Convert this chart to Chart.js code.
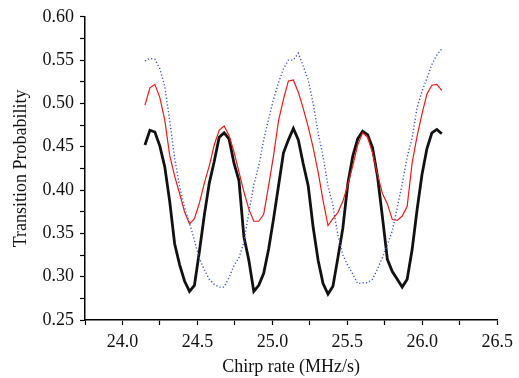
<!DOCTYPE html>
<html>
<head>
<meta charset="utf-8">
<script src="https://cdn.jsdelivr.net/npm/chart.js@4/dist/chart.umd.min.js"></script>
<style>
html,body{margin:0;padding:0;background:#fff;}
canvas{display:block;}
</style>
</head>
<body>
<canvas id="c" width="519" height="378"></canvas>
<script>
// Chirp rate (MHz/s) sample positions: 24.15 + i*0.033, i = 0..60
const chirpRate = [24.150,24.183,24.216,24.249,24.282,24.315,24.348,24.381,24.414,24.447,
  24.480,24.513,24.546,24.579,24.612,24.645,24.678,24.711,24.744,24.777,
  24.810,24.843,24.876,24.909,24.942,24.975,25.008,25.041,25.074,25.107,
  25.140,25.173,25.206,25.239,25.272,25.305,25.338,25.371,25.404,25.437,
  25.470,25.503,25.536,25.569,25.602,25.635,25.668,25.701,25.734,25.767,
  25.800,25.833,25.866,25.899,25.932,25.965,25.998,26.031,26.064,26.097,26.130];

const blackSeries = [0.452,0.469,0.467,0.451,0.427,0.387,0.338,0.314,0.295,0.283,
  0.290,0.329,0.371,0.408,0.433,0.461,0.466,0.459,0.431,0.411,
  0.346,0.319,0.283,0.290,0.304,0.332,0.367,0.405,0.443,0.458,
  0.471,0.458,0.430,0.405,0.357,0.319,0.292,0.280,0.289,0.322,
  0.356,0.407,0.439,0.459,0.468,0.464,0.449,0.416,0.369,0.320,
  0.306,0.297,0.288,0.297,0.331,0.377,0.418,0.448,0.466,0.470,0.465];

const redSeries = [0.498,0.518,0.522,0.507,0.481,0.440,0.416,0.396,0.375,0.361,
  0.367,0.385,0.408,0.428,0.452,0.469,0.474,0.463,0.444,0.421,
  0.398,0.378,0.364,0.364,0.372,0.405,0.440,0.480,0.505,0.526,
  0.527,0.513,0.494,0.473,0.449,0.421,0.388,0.359,0.367,0.374,
  0.387,0.406,0.428,0.452,0.466,0.461,0.443,0.418,0.396,0.384,
  0.366,0.365,0.370,0.381,0.431,0.462,0.488,0.511,0.521,0.522,0.515];

const blueSeries = [0.549,0.552,0.551,0.540,0.520,0.480,0.437,0.404,0.380,0.362,
  0.342,0.321,0.308,0.297,0.291,0.288,0.288,0.299,0.313,0.322,
  0.340,0.374,0.406,0.428,0.458,0.482,0.505,0.524,0.540,0.550,
  0.550,0.558,0.543,0.527,0.500,0.466,0.439,0.405,0.382,0.348,
  0.325,0.313,0.303,0.292,0.293,0.293,0.297,0.309,0.322,0.337,
  0.353,0.380,0.407,0.438,0.460,0.495,0.514,0.529,0.545,0.556,0.563];

const xMajorLabels = ['24.0','24.5','25.0','25.5','26.0','26.5'];
const yMajorLabels = ['0.25','0.30','0.35','0.40','0.45','0.50','0.55','0.60'];

const pts = arr => arr.map((v, i) => ({x: chirpRate[i], y: v}));
const FONT = "'Liberation Serif', 'Times New Roman', serif";

new Chart(document.getElementById('c'), {
  type: 'line',
  data: {
    datasets: [
      {data: pts(blueSeries), borderColor: '#3a55c8', borderWidth: 1.4, borderDash: [1.2, 2.2], pointRadius: 0, tension: 0, fill: false},
      {data: pts(redSeries), borderColor: '#f01818', borderWidth: 1.2, pointRadius: 0, tension: 0, fill: false},
      {data: pts(blackSeries), borderColor: '#111111', borderWidth: 2.8, pointRadius: 0, tension: 0, fill: false}
    ]
  },
  options: {
    responsive: false,
    animation: false,
    devicePixelRatio: 1,
    layout: {padding: {top: 15, right: 19, left: 0, bottom: 0}},
    plugins: {legend: {display: false}, tooltip: {enabled: false}},
    scales: {
      x: {
        type: 'linear', min: 23.75, max: 26.5,
        afterFit: s => { s.height = 58; },
        border: {display: true, color: '#000', width: 1.5},
        grid: {display: true, drawOnChartArea: false, drawTicks: true, tickLength: 5, tickColor: '#000', tickWidth: 1.2},
        ticks: {
          stepSize: 0.25, autoSkip: false, maxRotation: 0, padding: 6, color: '#111',
          font: {family: FONT, size: 18},
          callback: v => {
            const s = v.toFixed(1);
            return (Math.abs(v * 2 - Math.round(v * 2)) < 1e-6 && xMajorLabels.includes(s)) ? s : '';
          }
        },
        title: {display: true, text: 'Chirp rate (MHz/s)', color: '#111', font: {family: FONT, size: 18}, padding: {top: 2, bottom: 0}}
      },
      y: {
        type: 'linear', min: 0.25, max: 0.60,
        afterFit: s => { s.width = 85; },
        border: {display: true, color: '#000', width: 1.5},
        grid: {display: true, drawOnChartArea: false, drawTicks: true, tickLength: 5, tickColor: '#000', tickWidth: 1.2},
        ticks: {
          stepSize: 0.025, autoSkip: false, padding: 6, color: '#111',
          font: {family: FONT, size: 18},
          callback: v => {
            const s = v.toFixed(2);
            return (Math.abs(v * 20 - Math.round(v * 20)) < 1e-6 && yMajorLabels.includes(s)) ? s : '';
          }
        },
        title: {display: true, text: 'Transition Probability', color: '#111', font: {family: FONT, size: 18}, padding: {top: 10, bottom: 0}}
      }
    }
  }
});
</script>
</body>
</html>
